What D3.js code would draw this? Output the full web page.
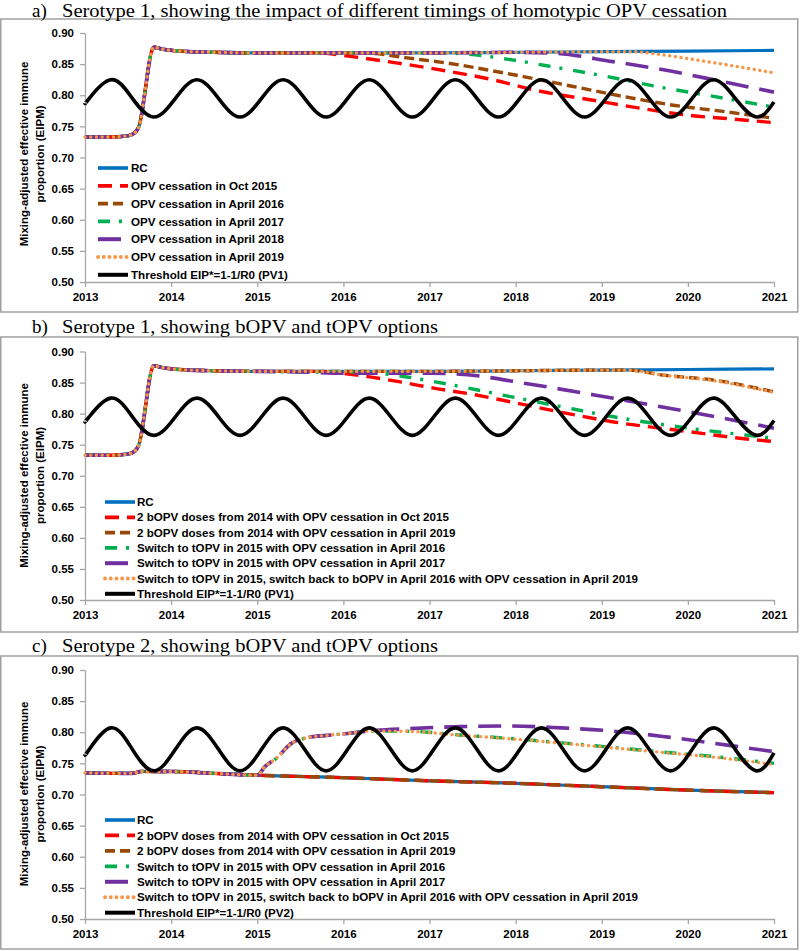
<!DOCTYPE html>
<html>
<head>
<meta charset="utf-8">
<script src="https://cdn.jsdelivr.net/npm/d3@7"></script>
<style>
  html, body { margin: 0; padding: 0; background: #fff; }
  svg { display: block; }
</style>
</head>
<body>
<svg id="chart" width="800" height="951"></svg>
<script>
// ---------------- DATA ----------------
const xTickYears = [2013, 2014, 2015, 2016, 2017, 2018, 2019, 2020, 2021];
const yTickValues = [0.50, 0.55, 0.60, 0.65, 0.70, 0.75, 0.80, 0.85, 0.90];

// Serotype 1 shared start (all scenarios coincide until divergence)
const pv1Base = [[2013,0.733],[2013.3,0.733],[2013.5,0.735],[2013.58,0.740],[2013.62,0.748],[2013.8,0.877],[2013.9,0.874],[2014.1,0.871],[2014.5,0.869],[2015,0.868]];
const pv1RC = [...pv1Base, [2016,0.868],[2017,0.868],[2018,0.869],[2019,0.870],[2020,0.871],[2021,0.872]];

// Panel a
const aCessOct2015 = [...pv1Base, [2015.7,0.868],[2016.1,0.862],[2016.66,0.851],[2017.2,0.839],[2017.7,0.826],[2018.3,0.806],[2018.9,0.792],[2019.45,0.779],[2020,0.768],[2020.5,0.762],[2021,0.756]];
const aCessApr2016 = [...pv1Base, [2016,0.868],[2016.35,0.867],[2016.74,0.860],[2017.24,0.851],[2017.74,0.839],[2018.09,0.830],[2018.67,0.814],[2019.25,0.798],[2019.83,0.784],[2020.41,0.774],[2021,0.763]];
const aCessApr2017 = [...pv1Base, [2016,0.868],[2017,0.868],[2017.35,0.867],[2017.9,0.858],[2018.5,0.844],[2019.06,0.830],[2019.6,0.815],[2020.22,0.800],[2021,0.781]];
const aCessApr2018 = [...pv1Base, [2016,0.868],[2017,0.868],[2018,0.869],[2018.4,0.868],[2019.13,0.854],[2019.83,0.838],[2020.4,0.822],[2021,0.805]];
const aCessApr2019 = [...pv1Base, [2016,0.868],[2017,0.868],[2018,0.869],[2019,0.870],[2019.35,0.870],[2019.7,0.865],[2020.22,0.854],[2021,0.836]];

// Panel b
const bBopvOct2015 = [...pv1Base, [2015.7,0.868],[2016.16,0.862],[2016.66,0.851],[2017.05,0.841],[2017.5,0.831],[2017.94,0.819],[2018.5,0.803],[2019.12,0.787],[2020.01,0.771],[2020.5,0.762],[2021,0.755]];
const bBopvApr2019 = [...pv1Base, [2016,0.868],[2017,0.868],[2018,0.869],[2019,0.870],[2019.3,0.870],[2019.71,0.862],[2020.3,0.854],[2021,0.835]];
const bTopvApr2016 = [...pv1Base, [2015.5,0.867],[2016,0.867],[2016.4,0.865],[2017.05,0.8515],[2017.94,0.8274],[2018.5,0.812],[2019.12,0.7953],[2020.01,0.7766],[2021,0.7605]];
const bTopvApr2017 = [...pv1Base, [2015.5,0.867],[2016,0.865],[2017,0.865],[2017.3,0.864],[2018.23,0.846],[2019.12,0.825],[2020.01,0.803],[2021,0.7766]];
const bSwitchBack  = [...pv1Base, [2016,0.868],[2017,0.868],[2018,0.869],[2019,0.870],[2019.3,0.870],[2019.71,0.862],[2020.3,0.853],[2021,0.834]];

// Panel c (serotype 2)
const pv2Base = [[2013,0.735],[2013.3,0.734],[2013.55,0.734],[2013.65,0.737],[2014,0.737],[2014.5,0.734],[2015,0.731]];
const cRC          = [...pv2Base, [2016,0.727],[2017,0.722],[2018,0.718],[2019,0.7125],[2020,0.707],[2021,0.703]];
const cBopvOct2015 = [...pv2Base, [2016,0.727],[2017,0.722],[2018,0.718],[2019,0.7125],[2020,0.707],[2021,0.703]];
const cBopvApr2019 = [...pv2Base, [2016,0.727],[2017,0.722],[2018,0.718],[2019,0.7125],[2020,0.707],[2021,0.703]];
const cTopvApr2016 = [...pv2Base, [2015.09,0.745],[2015.22,0.758],[2015.39,0.7815],[2015.57,0.791],[2015.81,0.795],[2016.05,0.798],[2016.3,0.802],[2016.75,0.8017],[2017.35,0.7956],[2017.94,0.790],[2018.53,0.783],[2019.12,0.7758],[2019.71,0.7682],[2020.3,0.761],[2021,0.750]];
const cTopvApr2017 = [...pv2Base, [2015.09,0.745],[2015.22,0.758],[2015.39,0.7815],[2015.57,0.791],[2015.81,0.795],[2016.05,0.798],[2016.3,0.802],[2016.75,0.8057],[2017.35,0.809],[2017.94,0.810],[2018.53,0.807],[2019.12,0.802],[2019.71,0.7933],[2020.3,0.7823],[2021,0.7688]];
const cSwitchBack  = [...pv2Base, [2015.09,0.745],[2015.22,0.758],[2015.39,0.7815],[2015.57,0.791],[2015.81,0.795],[2016.05,0.798],[2016.3,0.802],[2016.75,0.8015],[2017.35,0.7953],[2017.94,0.7895],[2018.53,0.7825],[2019.12,0.775],[2019.71,0.7675],[2020.3,0.760],[2021,0.748]];

// Thresholds EIP* = 1-1/R0 (seasonal)
const thrPV1 = [[2013.00,0.787],[2013.05,0.795],[2013.30,0.825],[2013.55,0.795],[2013.80,0.765],
  [2014.05,0.795],[2014.30,0.825],[2014.55,0.795],[2014.80,0.765],
  [2015.05,0.795],[2015.30,0.825],[2015.55,0.795],[2015.80,0.765],
  [2016.05,0.795],[2016.30,0.825],[2016.55,0.795],[2016.80,0.765],
  [2017.05,0.795],[2017.30,0.825],[2017.55,0.795],[2017.80,0.765],
  [2018.05,0.795],[2018.30,0.825],[2018.55,0.795],[2018.80,0.765],
  [2019.05,0.795],[2019.30,0.825],[2019.55,0.795],[2019.80,0.765],
  [2020.05,0.795],[2020.30,0.825],[2020.55,0.795],[2020.80,0.765],[2021.00,0.789]];
const thrPV2 = [[2013.00,0.764],[2013.05,0.7725],[2013.30,0.807],[2013.55,0.7725],[2013.80,0.738],
  [2014.05,0.7725],[2014.30,0.807],[2014.55,0.7725],[2014.80,0.738],
  [2015.05,0.7725],[2015.30,0.807],[2015.55,0.7725],[2015.80,0.738],
  [2016.05,0.7725],[2016.30,0.807],[2016.55,0.7725],[2016.80,0.738],
  [2017.05,0.7725],[2017.30,0.807],[2017.55,0.7725],[2017.80,0.738],
  [2018.05,0.7725],[2018.30,0.807],[2018.55,0.7725],[2018.80,0.738],
  [2019.05,0.7725],[2019.30,0.807],[2019.55,0.7725],[2019.80,0.738],
  [2020.05,0.7725],[2020.30,0.807],[2020.55,0.7725],[2020.80,0.738],[2021.00,0.767]];

const aLabels = ["RC","OPV cessation in Oct 2015","OPV cessation in April 2016","OPV cessation in April 2017","OPV cessation in April 2018","OPV cessation in April 2019","Threshold EIP*=1-1/R0 (PV1)"];
const bLabels = ["RC","2 bOPV doses from 2014 with OPV cessation in Oct 2015","2 bOPV doses from 2014 with OPV cessation in April 2019","Switch to tOPV in 2015 with OPV cessation in April 2016","Switch to tOPV in 2015 with OPV cessation in April 2017","Switch to tOPV in 2015, switch back to bOPV in April 2016 with OPV cessation in April 2019","Threshold EIP*=1-1/R0 (PV1)"];
const cLabels = ["RC","2 bOPV doses from 2014 with OPV cessation in Oct 2015","2 bOPV doses from 2014 with OPV cessation in April 2019","Switch to tOPV in 2015 with OPV cessation in April 2016","Switch to tOPV in 2015 with OPV cessation in April 2017","Switch to tOPV in 2015, switch back to bOPV in April 2016 with OPV cessation in April 2019","Threshold EIP*=1-1/R0 (PV2)"];

const panelTitles = ["Serotype 1, showing the impact of different timings of homotypic OPV cessation","Serotype 1, showing bOPV and tOPV options","Serotype 2, showing bOPV and tOPV options"];
const panelLetters = ["a)","b)","c)"];
const yTitleLines = ["Mixing-adjusted effective immune","proportion (EIPM)"];

// ---------------- STYLE ----------------
const seriesStyles = [
  {color:"#0070C0", dash:null, width:3.2, cap:"butt"},
  {color:"#FF0000", dash:"14,8", width:3.4, cap:"butt"},
  {color:"#984807", dash:"10,5", width:3.4, cap:"butt"},
  {color:"#00B050", dash:"12,9,3,11", width:3.4, cap:"butt"},
  {color:"#7030A0", dash:"23,11", width:3.6, cap:"butt"},
  {color:"#F79646", dash:"0.1,5.6", width:3.4, cap:"round"},
  {color:"#000000", dash:null, width:3.6, cap:"butt"}
];

const panels = [
  {series:[pv1RC,aCessOct2015,aCessApr2016,aCessApr2017,aCessApr2018,aCessApr2019,thrPV1], labels:aLabels,
   titleY:16.5, titleW:665, box:[19,312], plot:[33,282], legY:168, legDy:17.8, legX0:98, legX1:128, legTx:131, yTitleC:154},
  {series:[pv1RC,bBopvOct2015,bBopvApr2019,bTopvApr2016,bTopvApr2017,bSwitchBack,thrPV1], labels:bLabels,
   titleY:333, titleW:376, box:[337,632], plot:[351.5,600], legY:502, legDy:15.3, legX0:105, legX1:135, legTx:137, yTitleC:475.5},
  {series:[cRC,cBopvOct2015,cBopvApr2019,cTopvApr2016,cTopvApr2017,cSwitchBack,thrPV2], labels:cLabels,
   titleY:652, titleW:376, box:[656,949], plot:[670,919], legY:820, legDy:15.45, legX0:105, legX1:135, legTx:137, yTitleC:794}
];

const svg = d3.select("#chart");
const sans = "'Liberation Sans', Arial, sans-serif";
const serif = "'Liberation Serif', 'Times New Roman', serif";
const axisColor = "#a6a6a6";

panels.forEach((p, pi) => {
  const g = svg.append("g");
  // frame
  g.append("rect").attr("x", 0.75).attr("y", p.box[0]).attr("width", 797).attr("height", p.box[1]-p.box[0])
    .attr("fill", "none").attr("stroke", "#a0a0a0").attr("stroke-width", 1.5);
  // title
  g.append("text").attr("x", 32).attr("y", p.titleY).attr("font-family", serif).attr("font-size", 19).text(panelLetters[pi]);
  g.append("text").attr("x", 62).attr("y", p.titleY).attr("font-family", serif).attr("font-size", 19)
    .attr("textLength", p.titleW).attr("lengthAdjust", "spacingAndGlyphs").text(panelTitles[pi]);

  const x = d3.scaleLinear().domain([2013, 2021]).range([85, 774]);
  const y = d3.scaleLinear().domain([0.5, 0.9]).range([p.plot[1], p.plot[0]]);

  const yAxis = g.append("g").attr("transform", "translate(85,0)")
    .call(d3.axisLeft(y).tickValues(yTickValues).tickFormat(d3.format(".2f")).tickSize(5).tickSizeOuter(0).tickPadding(6));
  const xAxis = g.append("g").attr("transform", `translate(0,${p.plot[1]})`)
    .call(d3.axisBottom(x).tickValues(xTickYears).tickFormat(d3.format("d")).tickSize(5).tickSizeOuter(0).tickPadding(6));
  [yAxis, xAxis].forEach(ax => {
    ax.select(".domain").attr("stroke", axisColor).attr("stroke-width", 1.3);
    ax.selectAll(".tick line").attr("stroke", axisColor).attr("stroke-width", 1.3);
    ax.selectAll(".tick text").attr("font-family", sans).attr("font-size", 11.5).attr("font-weight", "bold").attr("fill", "#000");
  });

  // y title
  const yt = g.append("text").attr("transform", `translate(0,${p.yTitleC}) rotate(-90)`)
    .attr("font-family", sans).attr("font-size", 11.5).attr("font-weight", "bold").attr("text-anchor", "middle");
  yt.append("tspan").attr("x", 0).attr("y", 28).text(yTitleLines[0]);
  yt.append("tspan").attr("x", 0).attr("y", 43.5).text(yTitleLines[1]);

  // lines
  const line = d3.line().x(d => x(d[0])).y(d => y(d[1])).curve(d3.curveMonotoneX);
  const thrLine = d3.line().x(d => x(d[0])).y(d => y(d[1])).curve(d3.curveNatural);
  p.series.forEach((s, si) => {
    const st = seriesStyles[si];
    g.append("path").datum(s).attr("d", si === 6 ? thrLine : line)
      .attr("fill", "none").attr("stroke", st.color).attr("stroke-width", st.width)
      .attr("stroke-dasharray", st.dash).attr("stroke-linecap", st.cap).attr("stroke-linejoin", "round");
  });

  // legend
  p.labels.forEach((lab, li) => {
    const st = seriesStyles[li];
    const ly = p.legY + li * p.legDy;
    g.append("line").attr("x1", p.legX0).attr("x2", p.legX1).attr("y1", ly).attr("y2", ly)
      .attr("stroke", st.color).attr("stroke-width", st.width + 0.4).attr("stroke-dasharray", st.dash).attr("stroke-linecap", st.cap);
    g.append("text").attr("x", p.legTx).attr("y", ly).attr("dy", "0.36em")
      .attr("font-family", sans).attr("font-size", 11.6).attr("font-weight", "bold").attr("fill", "#000").text(lab);
  });
});
</script>
</body>
</html>
